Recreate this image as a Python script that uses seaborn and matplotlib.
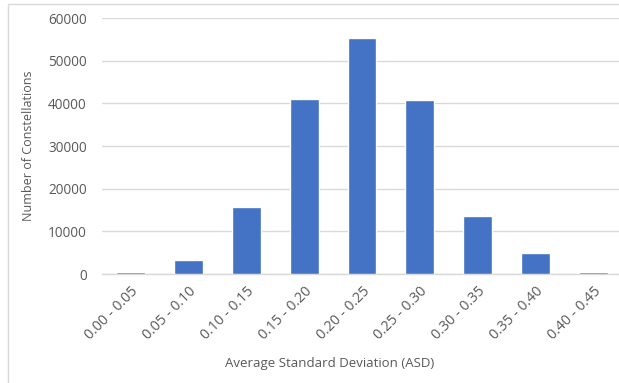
import numpy as np
import pandas as pd
import matplotlib
matplotlib.use("Agg")
import matplotlib.pyplot as plt
import seaborn as sns
from matplotlib.patches import Rectangle

# ASD bins and number of constellations in each
bins = ["0.00 - 0.05", "0.05 - 0.10", "0.10 - 0.15", "0.15 - 0.20", "0.20 - 0.25",
        "0.25 - 0.30", "0.30 - 0.35", "0.35 - 0.40", "0.40 - 0.45"]
counts = [500, 3300, 15800, 40950, 55300, 40700, 13700, 4850, 450]
yticks = [0, 10000, 20000, 30000, 40000, 50000, 60000]

df = pd.DataFrame({"ASD": bins, "Count": counts})

sns.set_theme(style="white")
plt.rcParams["font.family"] = ["Open Sans", "DejaVu Sans"]

W, H = 619, 383
fig = plt.figure(figsize=(W / 100, H / 100), dpi=100)
ax = fig.add_axes([102 / W, 1 - 274 / H, 520 / W, 256 / H])

sns.barplot(data=df, x="ASD", y="Count", color="#4472C4", saturation=1,
            width=0.5, ax=ax, zorder=3)

ax.set_ylim(0, 60000)
ax.set_yticks(yticks)
ax.set_yticklabels([str(v) for v in yticks])
ax.yaxis.grid(True, color="#d9d9d9", linewidth=1, zorder=0)
ax.set_axisbelow(True)
for s in ["top", "right", "left"]:
    ax.spines[s].set_visible(False)
ax.spines["bottom"].set_color("#d9d9d9")
ax.spines["bottom"].set_linewidth(1)

ax.tick_params(axis="y", length=0, pad=11, labelsize=9.8, labelcolor="#595959")
ax.tick_params(axis="x", length=0, pad=7, labelsize=10.3, labelcolor="#595959")
plt.setp(ax.get_xticklabels(), rotation=45, ha="right", rotation_mode="anchor")

ax.set_ylabel("Number of Constellations", fontsize=9, color="#595959", labelpad=9)
ax.set_xlabel("")
fig.text(330 / W, 1 - 363 / H, "Average Standard Deviation (ASD)", fontsize=9.5,
         color="#595959", ha="center", va="center")

# chart area border (light gray frame of the Excel chart)
fig.patches.append(Rectangle((8 / W, -0.1), 1.2, 1.1 - 4 / H, transform=fig.transFigure,
                             fill=False, edgecolor="#d9d9d9", linewidth=1))

fig.savefig("out.png", dpi=100)
